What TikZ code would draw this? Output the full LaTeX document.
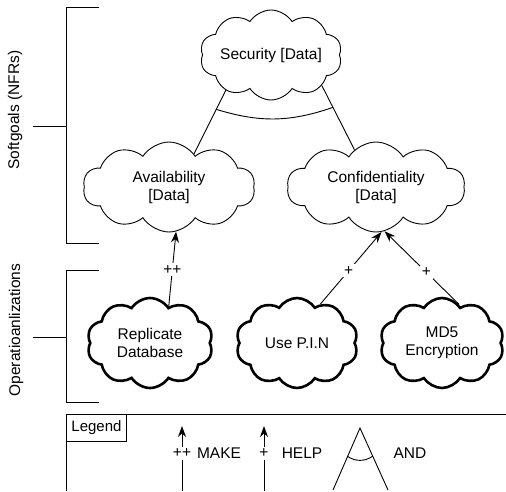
\documentclass[tikz,border=0pt]{standalone}
\usepackage{fontspec}
\setmainfont{Liberation Sans}
\usetikzlibrary{shapes.symbols,arrows.meta}

\begin{document}
\begin{tikzpicture}[x=1pt, y=-1pt]
\tikzset{nuage/.style={cloud, draw, cloud puffs=10, cloud puff arc=115, cloud ignores aspect, inner sep=0pt, align=center, font=\fontsize{15.5}{18}\selectfont}}
\tikzset{softgoal/.style={nuage, line width=0.9pt}}
\tikzset{operation/.style={nuage, line width=2.6pt}}
\tikzset{contrib/.style={line width=0.9pt, -{Stealth[length=11pt, width=8pt]}}}
\tikzset{lbl/.style={fill=white, inner sep=2pt, font=\fontsize{15.5}{18}\selectfont}}
\tikzset{txt/.style={font=\fontsize{15.5}{18}\selectfont}}
\useasboundingbox (0,0) rectangle (506,491);
% brackets
\draw[line width=0.9pt] (99,7) -- (66,7) -- (66,243) -- (99,243);
\draw[line width=0.9pt] (33,126) -- (66,126);
\draw[line width=0.9pt] (99,270) -- (66,270) -- (66,402) -- (99,402);
\draw[line width=0.9pt] (33,337) -- (66,337);
\node[txt, rotate=90] (sglab) at (15,110) {Softgoals (NFRs)};
\node[txt, rotate=90] (oplab) at (16,330) {Operatioanlizations};
% softgoals
\node[softgoal, minimum width=142, minimum height=90] (sec) at (271,55) {Security [Data]};
\node[softgoal, minimum width=172, minimum height=90] (avail) at (169,187) {Availability\\{}[Data]};
\node[softgoal, minimum width=178, minimum height=90] (conf) at (376,187) {Confidentiality\\{}[Data]};
% operationalizations
\node[operation, minimum width=126, minimum height=90] (rep) at (150,343) {Replicate\\Database};
\node[operation, minimum width=122, minimum height=90] (pin) at (297,343) {Use P.I.N};
\node[operation, minimum width=124, minimum height=90] (md5) at (442,343) {MD5\\Encryption};
% AND decomposition
\draw[line width=0.9pt] (sec.-142) -- coordinate[pos=0.3] (andl) (avail.53);
\draw[line width=0.9pt] (sec.-31) -- coordinate[pos=0.34] (andr) (conf.120);
\draw[line width=0.9pt] (andl) to[bend right=18] (andr);
% contributions
\draw[contrib] (rep.63) -- node[lbl, pos=0.49] {++} (avail.-81);
\draw[contrib] (pin.59) -- node[lbl, pos=0.46] {+} (conf.-83);
\draw[contrib] (md5.66) -- node[lbl, pos=0.44] {+} (conf.-79);
% legend
\draw[line width=0.9pt] (66,491) -- (66,414) -- (506,414);
\node[draw, line width=0.9pt, anchor=north west, inner xsep=5pt, minimum height=27pt, font=\fontsize{15}{18}\selectfont] (legend) at (66,414) {Legend};
\coordinate (mk0) at (182,491);
\coordinate (mk1) at (182,426);
\draw[contrib] (mk0) -- node[lbl, pos=0.58] {++} (mk1);
\node[txt] (make) at (219,453) {MAKE};
\coordinate (hp0) at (264,491);
\coordinate (hp1) at (264,426);
\draw[contrib] (hp0) -- node[lbl, pos=0.58] {+} (hp1);
\node[txt] (help) at (302,453) {HELP};
\coordinate (lgl) at (333,490);
\coordinate (lga) at (360,428);
\coordinate (lgr) at (388,490);
\draw[line width=0.9pt] (lgl) -- (lga) -- (lgr);
\coordinate (lgal) at (347,456);
\coordinate (lgar) at (373,456);
\draw[line width=0.9pt] (lgal) to[bend right=35] (lgar);
\node[txt] (and) at (410,453) {AND};
\end{tikzpicture}
\end{document}
